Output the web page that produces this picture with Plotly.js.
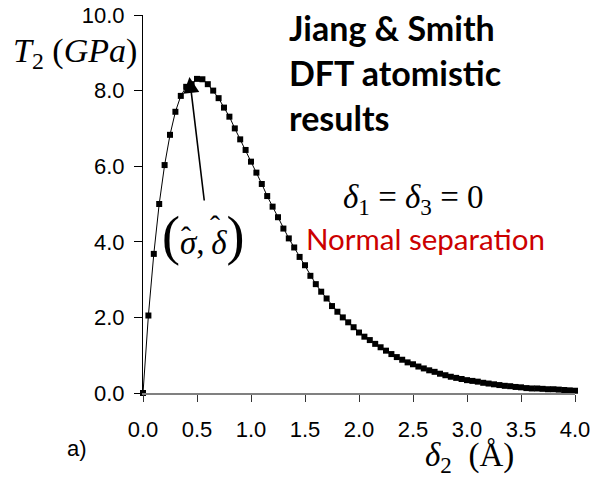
<!DOCTYPE html>
<html>
<head>
<meta charset="utf-8">
<script src="https://cdn.plot.ly/plotly-3.0.1.min.js"></script>
<style>html,body{margin:0;padding:0;background:#fff;}#chart{width:591px;height:481px;}</style>
</head>
<body>
<div id="chart"></div>
<script>
// separation delta_2 (Å)
const delta2 = [
  0.00,0.05,0.10,0.15,0.20,0.25,0.30,0.35,0.40,0.45,
  0.50,0.55,0.60,0.65,0.70,0.75,0.80,0.85,0.90,0.95,
  1.00,1.05,1.10,1.15,1.20,1.25,1.30,1.35,1.40,1.45,
  1.50,1.55,1.60,1.65,1.70,1.75,1.80,1.85,1.90,1.95,
  2.00,2.05,2.10,2.15,2.20,2.25,2.30,2.35,2.40,2.45,
  2.50,2.55,2.60,2.65,2.70,2.75,2.80,2.85,2.90,2.95,
  3.00,3.05,3.10,3.15,3.20,3.25,3.30,3.35,3.40,3.45,
  3.50,3.55,3.60,3.65,3.70,3.75,3.80,3.85,3.90,3.95,
  4.00
];
// traction T_2 (GPa)
const T2 = [
  0.00,2.05,3.68,5.00,6.03,6.83,7.44,7.86,8.10,8.17,
  8.31,8.30,8.17,8.00,7.80,7.55,7.31,7.00,6.71,6.43,
  6.12,5.83,5.53,5.21,4.93,4.65,4.35,4.09,3.85,3.60,
  3.38,3.10,2.88,2.68,2.50,2.30,2.15,2.00,1.87,1.74,
  1.60,1.49,1.40,1.30,1.21,1.12,1.03,0.95,0.88,0.81,
  0.76,0.70,0.65,0.60,0.56,0.51,0.47,0.43,0.40,0.37,
  0.34,0.32,0.30,0.27,0.25,0.23,0.21,0.19,0.18,0.16,
  0.15,0.13,0.12,0.12,0.11,0.10,0.10,0.09,0.08,0.07,
  0.06
];
const xTicks = [0,0.5,1,1.5,2,2.5,3,3.5,4];
const xTickText = ["0.0","0.5","1.0","1.5","2.0","2.5","3.0","3.5","4.0"];
const yTicks = [0,2,4,6,8,10];
const yTickText = ["0.0","2.0","4.0","6.0","8.0","10.0"];
const peak = {x:0.43, y:8.36};

const serif = "Liberation Serif, Times New Roman, serif";
const sans = "Liberation Sans, Arial, sans-serif";

const trace = {
  x: delta2, y: T2, type:'scatter', mode:'lines+markers',
  line:{color:'#000', width:1},
  marker:{symbol:'square', size:6, color:'#000'},
  cliponaxis:false, showlegend:false, hoverinfo:'skip'
};

function pa(px, py, text, font, extra) {
  return Object.assign({xref:'paper', yref:'paper', x:(px-143)/432, y:(393-py)/378,
    xanchor:'left', yanchor:'middle', showarrow:false, text:text, font:font}, extra||{});
}

const bold = {family:'Lato, sans-serif', size:34, color:'#000'};
const mathFont = {family:serif, size:33, color:'#000'};

const layout = {
  width:591, height:481,
  margin:{l:143, r:16, t:15, b:88, pad:0},
  paper_bgcolor:'#fff', plot_bgcolor:'#fff',
  showlegend:false,
  xaxis:{
    range:[0,4], tickvals:xTicks, ticktext:xTickText,
    showgrid:false, zeroline:false, showline:true, linecolor:'#808080', linewidth:2,
    ticks:'outside', ticklen:7, tickcolor:'#333', tickwidth:1,
    ticklabelstandoff:9,
    tickfont:{family:sans, size:22, color:'#000'}, fixedrange:true
  },
  yaxis:{
    range:[0,10], tickvals:yTicks, ticktext:yTickText,
    showgrid:false, zeroline:false, showline:true, linecolor:'#000', linewidth:1,
    ticks:'outside', ticklen:8, tickcolor:'#000', tickwidth:1,
    ticklabelstandoff:5,
    tickfont:{family:sans, size:22, color:'#000'}, fixedrange:true
  },
  annotations:[
    pa(287, 27, '<b>Jiang &amp; Smith</b>', bold),
    pa(287, 72, '<b>DFT atomistic</b>', bold),
    pa(287, 117, '<b>results</b>', bold),
    pa(11, 53, '<i>T</i><sub>2</sub> (<i>GPa</i>)', {family:serif, size:34, color:'#000'}),
    pa(341, 199, '<i>δ</i><sub>1</sub> = <i>δ</i><sub>3</sub> = 0', mathFont),
    pa(304, 238, 'Normal separation', {family:'Lato, sans-serif', size:29.5, color:'#CC0000'}),
    pa(160, 236, '<span style="font-size:54px">(</span><i>σ</i>,\u2009<i>δ</i><span style="font-size:54px">)</span>', mathFont),
    pa(179, 236, 'ˆ', {family:serif, size:30, color:'#000'}),
    pa(208, 226, 'ˆ', {family:serif, size:30, color:'#000'}),
    pa(65, 448, 'a)', {family:sans, size:22, color:'#000'}),
    pa(423, 457, '<i>δ</i><sub>2</sub>  (Å)', mathFont),
    {xref:'x', yref:'y', x:peak.x, y:peak.y, text:'', showarrow:true,
     ax:15, ay:125, axref:'pixel', ayref:'pixel',
     arrowhead:2, arrowsize:2, arrowwidth:1.6, arrowcolor:'#000', standoff:0}
  ]
};

Plotly.newPlot('chart', [trace], layout, {staticPlot:true, displayModeBar:false});
</script>
</body>
</html>
